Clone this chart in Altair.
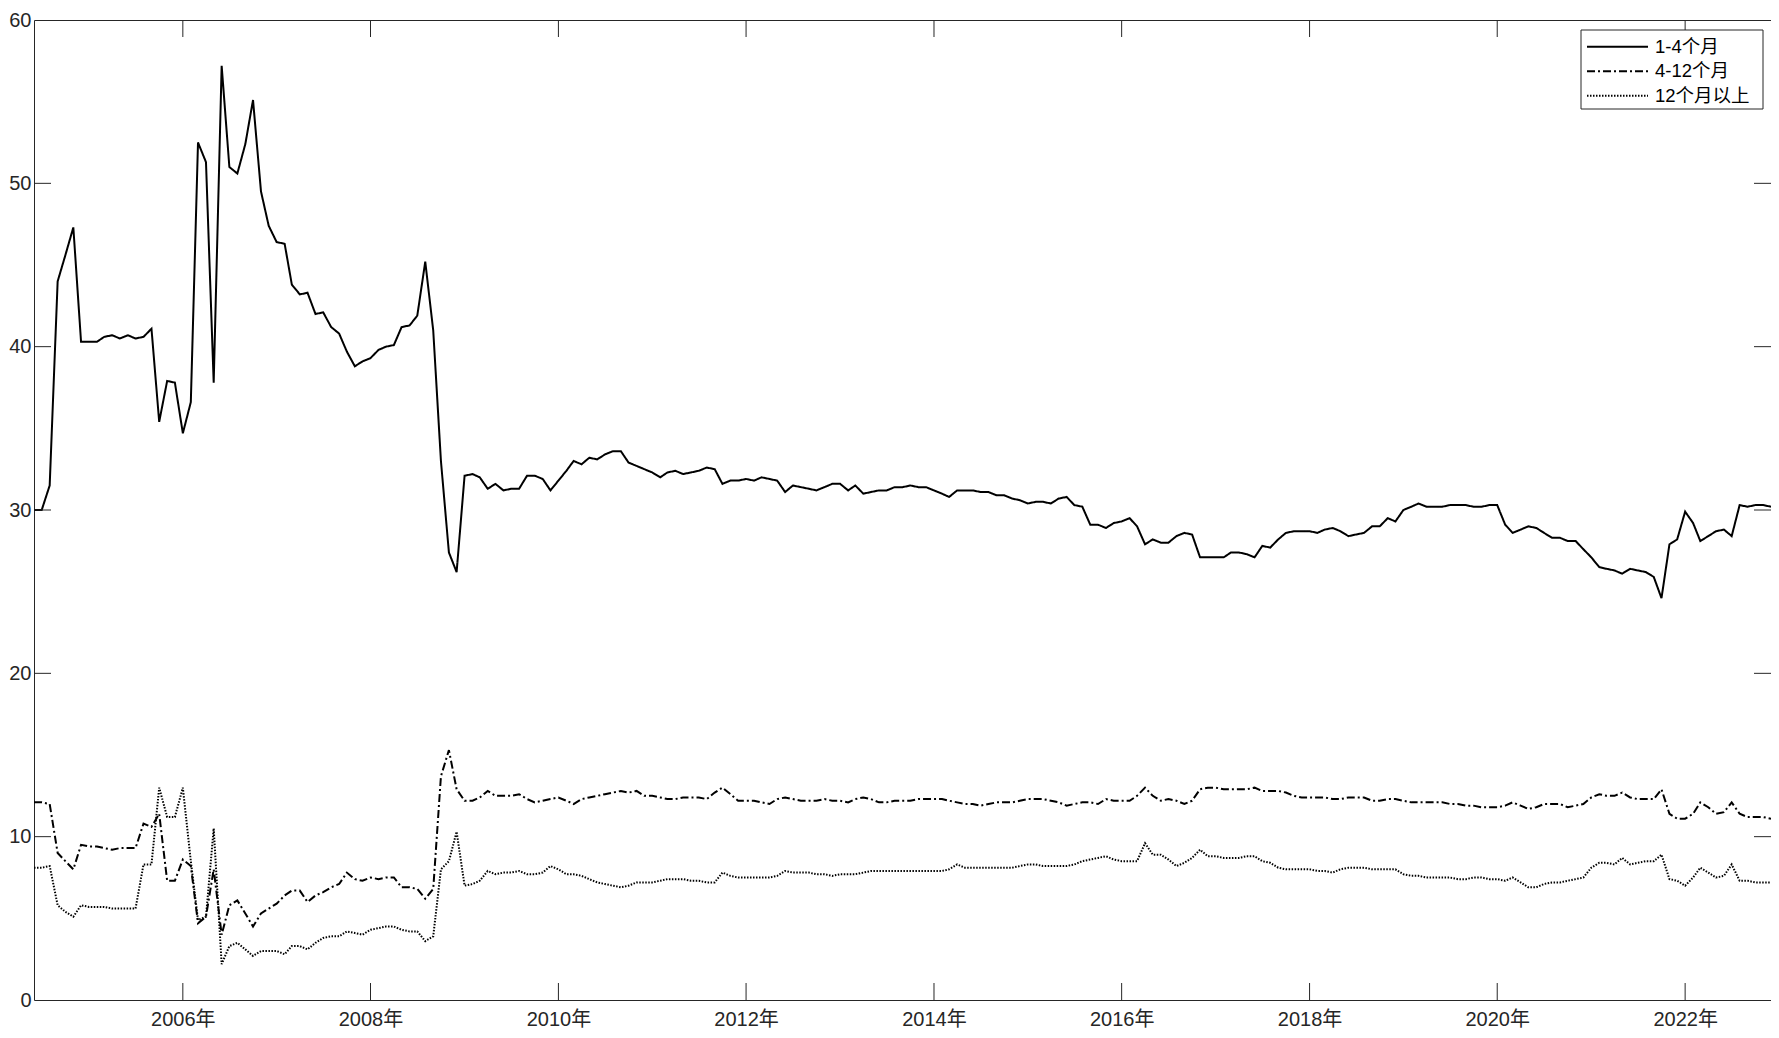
import altair as alt
import pandas as pd

# ---------------- data ----------------
SERIES = ["1-4个月", "4-12个月", "12个月以上"]
START_MONTH = "2004-06-01"          # first monthly observation
END_MONTH = "2022-12-01"            # last monthly observation

# 1-4个月 (2004-06 ... 2022-12, monthly)
s1 = [
    30.0, 30.0, 31.5, 44.0, 45.6, 47.3, 40.3,                                # 2004 Jun-Dec
    40.3, 40.3, 40.6, 40.7, 40.5, 40.7, 40.5, 40.6, 41.1, 35.4, 37.9, 37.8,  # 2005
    34.7, 36.6, 52.5, 51.3, 37.8, 57.2, 51.0, 50.6, 52.4, 55.1, 49.5, 47.4,  # 2006
    46.4, 46.3, 43.8, 43.2, 43.3, 42.0, 42.1, 41.2, 40.8, 39.7, 38.8, 39.1,  # 2007
    39.3, 39.8, 40.0, 40.1, 41.2, 41.3, 41.9, 45.2, 41.0, 33.0, 27.4, 26.2,  # 2008
    32.1, 32.2, 32.0, 31.3, 31.6, 31.2, 31.3, 31.3, 32.1, 32.1, 31.9, 31.2,  # 2009
    31.8, 32.4, 33.0, 32.8, 33.2, 33.1, 33.4, 33.6, 33.6, 32.9, 32.7, 32.5,  # 2010
    32.3, 32.0, 32.3, 32.4, 32.2, 32.3, 32.4, 32.6, 32.5, 31.6, 31.8, 31.8,  # 2011
    31.9, 31.8, 32.0, 31.9, 31.8, 31.1, 31.5, 31.4, 31.3, 31.2, 31.4, 31.6,  # 2012
    31.6, 31.2, 31.5, 31.0, 31.1, 31.2, 31.2, 31.4, 31.4, 31.5, 31.4, 31.4,  # 2013
    31.2, 31.0, 30.8, 31.2, 31.2, 31.2, 31.1, 31.1, 30.9, 30.9, 30.7, 30.6,  # 2014
    30.4, 30.5, 30.5, 30.4, 30.7, 30.8, 30.3, 30.2, 29.1, 29.1, 28.9, 29.2,  # 2015
    29.3, 29.5, 29.0, 27.9, 28.2, 28.0, 28.0, 28.4, 28.6, 28.5, 27.1, 27.1,  # 2016
    27.1, 27.1, 27.4, 27.4, 27.3, 27.1, 27.8, 27.7, 28.2, 28.6, 28.7, 28.7,  # 2017
    28.7, 28.6, 28.8, 28.9, 28.7, 28.4, 28.5, 28.6, 29.0, 29.0, 29.5, 29.3,  # 2018
    30.0, 30.2, 30.4, 30.2, 30.2, 30.2, 30.3, 30.3, 30.3, 30.2, 30.2, 30.3,  # 2019
    30.3, 29.1, 28.6, 28.8, 29.0, 28.9, 28.6, 28.3, 28.3, 28.1, 28.1, 27.6,  # 2020
    27.1, 26.5, 26.4, 26.3, 26.1, 26.4, 26.3, 26.2, 25.9, 24.6, 27.9, 28.2,  # 2021
    29.9, 29.2, 28.1, 28.4, 28.7, 28.8, 28.4, 30.3, 30.2, 30.3, 30.3, 30.2,  # 2022
]

# 4-12个月
s2 = [
    12.1, 12.1, 12.0, 9.0, 8.5, 8.0, 9.5,
    9.4, 9.4, 9.3, 9.2, 9.3, 9.3, 9.3, 10.8, 10.6, 11.4, 7.3, 7.3,
    8.6, 8.2, 4.7, 5.1, 8.0, 4.0, 5.8, 6.1, 5.3, 4.5, 5.3, 5.6,
    5.9, 6.4, 6.7, 6.7, 6.0, 6.4, 6.6, 6.9, 7.1, 7.8, 7.4, 7.3,
    7.5, 7.4, 7.5, 7.5, 6.9, 6.9, 6.8, 6.2, 6.8, 13.7, 15.3, 12.9,
    12.2, 12.2, 12.4, 12.8, 12.5, 12.5, 12.5, 12.6, 12.3, 12.1, 12.2, 12.3,
    12.4, 12.2, 12.0, 12.3, 12.4, 12.5, 12.6, 12.7, 12.8, 12.7, 12.8, 12.5,
    12.5, 12.4, 12.3, 12.3, 12.4, 12.4, 12.4, 12.3, 12.7, 13.0, 12.6, 12.2,
    12.2, 12.2, 12.1, 12.0, 12.3, 12.4, 12.3, 12.2, 12.2, 12.2, 12.3, 12.2,
    12.2, 12.1, 12.3, 12.4, 12.3, 12.1, 12.1, 12.2, 12.2, 12.2, 12.3, 12.3,
    12.3, 12.3, 12.2, 12.1, 12.0, 12.0, 11.9, 12.0, 12.1, 12.1, 12.1, 12.2,
    12.3, 12.3, 12.3, 12.2, 12.1, 11.9, 12.0, 12.1, 12.1, 12.0, 12.3, 12.2,
    12.2, 12.2, 12.5, 13.0, 12.5, 12.2, 12.3, 12.2, 12.0, 12.2, 12.9, 13.0,
    13.0, 12.9, 12.9, 12.9, 12.9, 13.0, 12.8, 12.8, 12.8, 12.7, 12.5, 12.4,
    12.4, 12.4, 12.4, 12.3, 12.3, 12.4, 12.4, 12.4, 12.2, 12.2, 12.3, 12.3,
    12.2, 12.1, 12.1, 12.1, 12.1, 12.1, 12.0, 12.0, 11.9, 11.9, 11.8, 11.8,
    11.8, 11.9, 12.1, 11.9, 11.7, 11.8, 12.0, 12.0, 12.0, 11.8, 11.9, 12.0,
    12.4, 12.6, 12.5, 12.5, 12.7, 12.4, 12.3, 12.3, 12.3, 12.9, 11.4, 11.1,
    11.1, 11.4, 12.1, 11.8, 11.4, 11.5, 12.1, 11.4, 11.2, 11.2, 11.2, 11.1,
]

# 12个月以上
s3 = [
    8.1, 8.1, 8.2, 5.8, 5.4, 5.1, 5.8,
    5.7, 5.7, 5.7, 5.6, 5.6, 5.6, 5.6, 8.3, 8.3, 13.0, 11.2, 11.2,
    13.0, 8.5, 4.9, 5.1, 10.5, 2.2, 3.3, 3.5, 3.1, 2.7, 3.0, 3.0,
    3.0, 2.8, 3.3, 3.3, 3.1, 3.5, 3.8, 3.9, 3.9, 4.2, 4.1, 4.0,
    4.3, 4.4, 4.5, 4.5, 4.3, 4.2, 4.2, 3.6, 3.9, 8.0, 8.5, 10.3,
    7.0, 7.1, 7.3, 7.9, 7.7, 7.8, 7.8, 7.9, 7.7, 7.7, 7.8, 8.2,
    8.0, 7.7, 7.7, 7.6, 7.4, 7.2, 7.1, 7.0, 6.9, 7.0, 7.2, 7.2,
    7.2, 7.3, 7.4, 7.4, 7.4, 7.3, 7.3, 7.2, 7.2, 7.8, 7.6, 7.5,
    7.5, 7.5, 7.5, 7.5, 7.6, 7.9, 7.8, 7.8, 7.8, 7.7, 7.7, 7.6,
    7.7, 7.7, 7.7, 7.8, 7.9, 7.9, 7.9, 7.9, 7.9, 7.9, 7.9, 7.9,
    7.9, 7.9, 8.0, 8.3, 8.1, 8.1, 8.1, 8.1, 8.1, 8.1, 8.1, 8.2,
    8.3, 8.3, 8.2, 8.2, 8.2, 8.2, 8.3, 8.5, 8.6, 8.7, 8.8, 8.6,
    8.5, 8.5, 8.5, 9.6, 8.9, 8.9, 8.6, 8.2, 8.4, 8.7, 9.2, 8.8,
    8.8, 8.7, 8.7, 8.7, 8.8, 8.8, 8.5, 8.4, 8.1, 8.0, 8.0, 8.0,
    8.0, 7.9, 7.9, 7.8, 8.0, 8.1, 8.1, 8.1, 8.0, 8.0, 8.0, 8.0,
    7.7, 7.6, 7.6, 7.5, 7.5, 7.5, 7.5, 7.4, 7.4, 7.5, 7.5, 7.4,
    7.4, 7.3, 7.5, 7.2, 6.9, 6.9, 7.1, 7.2, 7.2, 7.3, 7.4, 7.5,
    8.1, 8.4, 8.4, 8.3, 8.7, 8.3, 8.4, 8.5, 8.5, 8.9, 7.4, 7.3,
    7.0, 7.5, 8.1, 7.8, 7.5, 7.6, 8.3, 7.3, 7.3, 7.2, 7.2, 7.2,
]

X_TICK_YEARS = [2006, 2008, 2010, 2012, 2014, 2016, 2018, 2020, 2022]
Y_TICK_VALUES = [0, 10, 20, 30, 40, 50, 60]
Y_INNER_TICKS = [10, 20, 30, 40, 50]
LEGEND_ROWS = [0, 1, 2]

# ---------------- build tables ----------------
dates = list(pd.date_range(START_MONTH, periods=len(s1), freq="MS"))
df = pd.DataFrame({
    "date": dates * 3,
    "value": s1 + s2 + s3,
    "series": [SERIES[0]] * len(s1) + [SERIES[1]] * len(s2) + [SERIES[2]] * len(s3),
})
xt = pd.DataFrame({"date": [pd.Timestamp(year=y, month=1, day=1) for y in X_TICK_YEARS]})
yt = pd.DataFrame({"value": Y_INNER_TICKS})
leg = pd.DataFrame({"series": SERIES, "row": LEGEND_ROWS})

# ---------------- styling ----------------
W, H = 1737, 980
PAD = {"left": 26, "top": 12, "right": 0, "bottom": 30}
FONT = "Liberation Sans, Arial, Noto Sans CJK SC, sans-serif"
AX = "#262626"
TICK = 17

start = pd.Timestamp(START_MONTH)
end = pd.Timestamp(END_MONTH)
x_scale = alt.Scale(
    domain=[alt.DateTime(year=start.year, month=start.month, date=1),
            alt.DateTime(year=end.year, month=end.month, date=1)],
    nice=False,
)
y_scale = alt.Scale(domain=[0, 60], nice=False, zero=False)
dash_scale = alt.Scale(domain=SERIES, range=[[1, 0], [8, 3, 2, 3], [1.5, 1.5]])

x_axis = alt.Axis(
    values=[alt.DateTime(year=y, month=1, date=1) for y in X_TICK_YEARS],
    format="%Y年", title=None, ticks=False, tickSize=0, domain=False, grid=False,
    labelFont=FONT, labelFontSize=20, labelColor=AX, labelPadding=9,
    labelFlush=False, labelOverlap=False, labelBound=False,
)
y_axis = alt.Axis(
    values=Y_TICK_VALUES, title=None, ticks=False, tickSize=0, domain=False, grid=False,
    labelFont=FONT, labelFontSize=20, labelColor=AX, labelPadding=3,
    labelFlush=False, labelOverlap=False, labelBound=False,
)

X = alt.X("date:T", scale=x_scale, axis=x_axis, title=None)
Y = alt.Y("value:Q", scale=y_scale, axis=y_axis, title=None)

lines = alt.Chart(df).mark_line(strokeWidth=2, color="black").encode(
    x=X, y=Y,
    strokeDash=alt.StrokeDash("series:N", scale=dash_scale, legend=None),
    detail="series:N",
    order=alt.Order("date:T"),
)

# inward-pointing tick marks on all four sides of the box
tick_bottom = alt.Chart(xt).mark_rule(color=AX, strokeWidth=1).encode(
    x=X, y=alt.value(H), y2=alt.value(H - TICK),
)
tick_top = alt.Chart(xt).mark_rule(color=AX, strokeWidth=1).encode(
    x=X, y=alt.value(0), y2=alt.value(TICK),
)
tick_left = alt.Chart(yt).mark_rule(color=AX, strokeWidth=1).encode(
    y=Y, x=alt.value(0), x2=alt.value(TICK),
)
tick_right = alt.Chart(yt).mark_rule(color=AX, strokeWidth=1).encode(
    y=Y, x=alt.value(W - TICK), x2=alt.value(W),
)

# legend box (upper right, inside the axes)
LX1 = W - 8
LX0 = LX1 - 182
LY0, LY1 = 10, 89
ROW_Y = f"{LY0} + 16.8 + datum.row * 24.5"
legend_box = alt.Chart(leg).transform_filter("datum.row == 0").mark_rect(
    fill="white", stroke=AX, strokeWidth=1
).encode(x=alt.value(LX0), x2=alt.value(LX1), y=alt.value(LY0), y2=alt.value(LY1))

legend_lines = alt.Chart(leg).transform_calculate(py=ROW_Y).mark_rule(
    strokeWidth=2, color="black"
).encode(
    x=alt.value(LX0 + 6), x2=alt.value(LX0 + 67),
    y=alt.Y("py:Q", scale=None),
    strokeDash=alt.StrokeDash("series:N", scale=dash_scale, legend=None),
)
legend_text = alt.Chart(leg).transform_calculate(py=ROW_Y).mark_text(
    align="left", baseline="middle", font=FONT, fontSize=18.5, color="black"
).encode(
    x=alt.value(LX0 + 74),
    y=alt.Y("py:Q", scale=None),
    text="series:N",
)

chart = alt.layer(
    lines, tick_bottom, tick_top, tick_left, tick_right,
    legend_box, legend_lines, legend_text,
).properties(
    width=W, height=H,
    padding=PAD,
    autosize=alt.AutoSizeParams(type="none"),
    background="white",
).configure_view(
    stroke=AX, strokeWidth=1
)

chart.save("out.html", embed_options={"renderer": "svg", "actions": False})
